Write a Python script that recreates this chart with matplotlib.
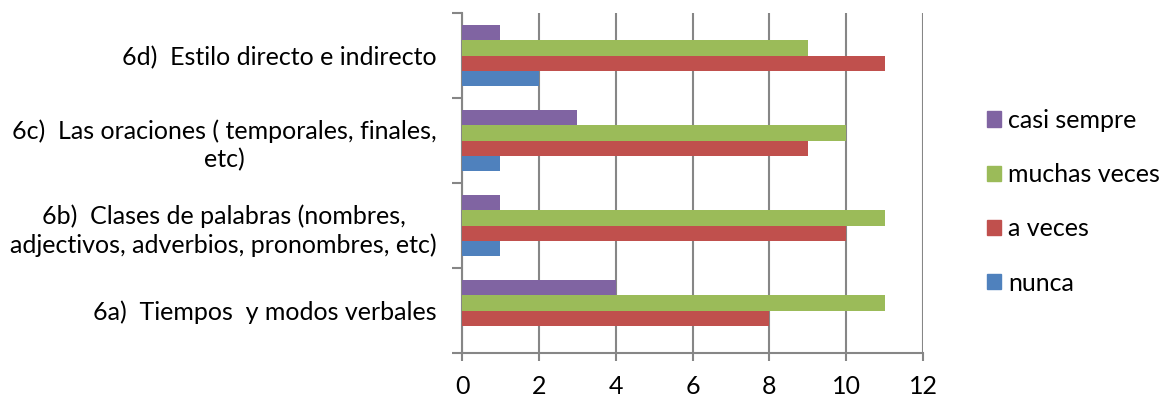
import numpy as np
import matplotlib.pyplot as plt
from matplotlib.patches import Patch

plt.rcParams['font.family'] = ['Lato', 'DejaVu Sans']

categories = ['6a)  Tiempos  y modos verbales',
              '6b)  Clases de palabras (nombres,\nadjectivos, adverbios, pronombres, etc)',
              '6c)  Las oraciones ( temporales, finales,\netc)',
              '6d)  Estilo directo e indirecto']
nunca = [0, 1, 1, 2]
a_veces = [8, 10, 9, 11]
muchas_veces = [11, 11, 10, 9]
casi_sempre = [4, 1, 3, 1]

series = [('nunca', nunca, '#4F81BD'),
          ('a veces', a_veces, '#C0504D'),
          ('muchas veces', muchas_veces, '#9BBB59'),
          ('casi sempre', casi_sempre, '#8064A2')]

fs = 18
fig = plt.figure(figsize=(11.7, 4.01), dpi=100)
ax = fig.add_axes([462 / 1170, 1 - 353 / 401, (923 - 462) / 1170, (353 - 13) / 401])

y = np.arange(len(categories))
h = 0.178
for i, (name, vals, col) in enumerate(series):
    ax.barh(y + (i - 1.5) * h, vals, height=h, color=col, zorder=3)

grid_col = '#868686'
ax.set_xlim(0, 12)
ax.set_ylim(-0.5, 3.5)
ax.set_xticks(range(0, 13, 2))
ax.xaxis.grid(True, color=grid_col, linewidth=1.5)
ax.set_axisbelow(True)

ax.set_yticks(y)
ax.set_yticklabels(categories, fontsize=fs, linespacing=1.28)
ax.set_yticks(np.arange(-0.5, 4, 1), minor=True)
ax.tick_params(axis='y', which='major', length=0, pad=18)
ax.tick_params(axis='y', which='minor', length=7, width=1.5, color=grid_col)
for t in ax.get_yticklabels():
    t.set_multialignment('center')
ax.tick_params(axis='x', length=6, width=1.5, color=grid_col, labelsize=fs, pad=10)

for s in ['top', 'right']:
    ax.spines[s].set_visible(False)
for s in ['left', 'bottom']:
    ax.spines[s].set_color(grid_col)
    ax.spines[s].set_linewidth(1.5)

handles = [Patch(color=c, label=n) for n, _, c in series[::-1]]
fig.legend(handles=handles, loc='center left', bbox_to_anchor=(987 / 1170, 0.497),
           frameon=False, fontsize=fs, handlelength=0.56, handleheight=0.56,
           handletextpad=0.3, labelspacing=1.25, borderpad=0, borderaxespad=0)

fig.savefig('out.png', dpi=100)
